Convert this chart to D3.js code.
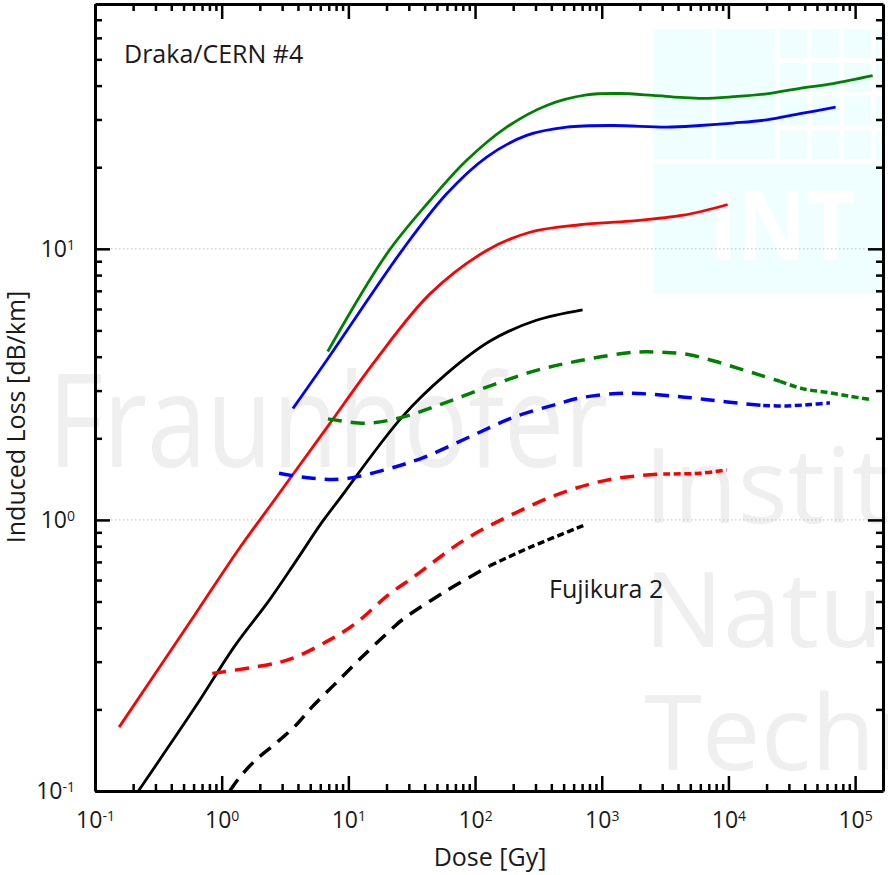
<!DOCTYPE html>
<html>
<head>
<meta charset="utf-8">
<script src="https://cdn.jsdelivr.net/npm/d3@7"></script>
<style>
  html, body { margin: 0; padding: 0; background: #fff; }
  svg { display: block; font-family: "Open Sans", "Noto Sans", sans-serif; }
</style>
</head>
<body>
<svg id="chart" width="888" height="875"></svg>
<script>
// Induced loss vs. dose, two fibres at four wavelengths/conditions each.
// Each series: [dose in Gy, induced loss in dB/km]

// Draka/CERN #4 (solid lines)
const drakaGreen = [[6.87,4.18],[20.1,9.58],[44.1,15.07],[85.9,21.2],[177.6,28.1],[367.5,33.8],[760,36.95],[1391,37.4],[2550,36.8],[4143,36.2],[6327,35.9],[10910,36.4],[20030,37.3],[36670,39.1],[67200,40.7],[137500,43.5]];
const drakaBlue = [[3.65,2.575],[6.90,3.94],[27.1,10.0],[59.7,15.96],[123.5,21.8],[255.5,26.2],[528,28.1],[1232,28.5],[3253,28.1],[5957,28.5],[10910,29.1],[20030,29.9],[36670,31.5],[70150,33.3]];
const drakaRed = [[0.155,0.172],[0.616,0.448],[1.337,0.770],[2.555,1.169],[6.90,2.219],[16.73,3.93],[44.1,6.82],[123.5,9.86],[271,11.51],[673,12.27],[1670,12.65],[4399,13.3],[9856,14.57]];
const drakaBlack = [[0.22,0.1],[0.616,0.2035],[1.274,0.3439],[2.332,0.4995],[3.788,0.6956],[6.155,0.977],[8.32,1.178],[26.4,2.39],[59.4,3.457],[133.5,4.587],[300.8,5.438],[705.6,5.955]];

// Fujikura 2 (dashed lines)
const fujiGreen = [[6.90,2.359],[13.77,2.273],[26.4,2.39],[59.4,2.716],[133.5,3.13],[300.8,3.555],[677.6,3.87],[1796,4.155],[2971,4.155],[4817,4.074],[7824,3.848],[12320,3.608],[18280,3.408],[25500,3.246],[38950,3.044],[59570,2.957],[90970,2.858],[132600,2.779]];
const fujiBlue = [[2.835,1.486],[5.21,1.424],[9.2,1.417],[20.7,1.543],[39.5,1.702],[89.2,2.018],[200.6,2.39],[451,2.68],[677.6,2.82],[1524,2.933],[3253,2.876],[5124,2.82],[7824,2.756],[12320,2.694],[18820,2.641],[28800,2.634],[43990,2.664],[63250,2.703]];
const fujiRed = [[0.843,0.2716],[2.634,0.2957],[3.788,0.3112],[6.94,0.3586],[11.27,0.4133],[20.65,0.5286],[32.5,0.614],[80.7,0.8386],[200.2,1.052],[496.8,1.264],[1232,1.417],[3058,1.478],[5957,1.486],[9679,1.529]];
const fujiBlack = [[1.16,0.1],[1.352,0.1107],[1.832,0.1294],[2.634,0.1491],[3.788,0.1735],[5.13,0.2035],[7.84,0.2482],[12.74,0.3112],[21.97,0.396],[27.1,0.431],[59.7,0.5484],[131.2,0.678],[271,0.792],[714.5,0.9528]];

const xMajorTicks = [1e-1, 1e0, 1e1, 1e2, 1e3, 1e4, 1e5];
const xTickExponents = ["-1", "0", "1", "2", "3", "4", "5"];
const yMajorTicks = [1e-1, 1e0, 1e1];
const yTickExponents = ["-1", "0", "1"];
const gridValues = [1e0, 1e1];

// denseFrom: dose above which the measurement points sit so close that the dashes shorten
const seriesList = [
  { data: drakaGreen, color: "#008000", dashed: false },
  { data: drakaBlue,  color: "#0000ff", dashed: false },
  { data: drakaRed,   color: "#ff0000", dashed: false },
  { data: drakaBlack, color: "#000000", dashed: false },
  { data: fujiGreen,  color: "#008000", dashed: true, denseFrom: 25500 },
  { data: fujiBlue,   color: "#0000ff", dashed: true, denseFrom: 18820 },
  { data: fujiRed,    color: "#ff0000", dashed: true, denseFrom: 3058 },
  { data: fujiBlack,  color: "#000000", dashed: true, denseFrom: 131.2 }
];

const svg = d3.select("#chart");
const plotLeft = 95, plotRight = 883, plotTop = 4, plotBottom = 791;

const x = d3.scaleLog().domain([0.1, 1.66e5]).range([plotLeft, plotRight]);
const y = d3.scaleLog().domain([0.1, 80]).range([plotBottom, plotTop]);

function minorTicks(lo, hi) {
  const out = [];
  for (let e = Math.floor(Math.log10(lo)); e <= Math.ceil(Math.log10(hi)); e++) {
    for (let m = 2; m <= 9; m++) {
      const v = m * Math.pow(10, e);
      if (v > lo && v < hi) out.push(v);
    }
  }
  return out;
}
const xMinor = minorTicks(0.1, 1.66e5);
const yMinor = minorTicks(0.1, 80);

// background watermark text
const wm = svg.append("g").attr("fill", "#efefef");
wm.append("text").attr("x", 48).attr("y", 467).attr("font-size", 130)
  .attr("textLength", 560).attr("lengthAdjust", "spacingAndGlyphs").text("Fraunhofer");
wm.append("text").attr("x", 644).attr("y", 523).attr("font-size", 105).text("Institut");
wm.append("text").attr("x", 644).attr("y", 647).attr("font-size", 105).text("Natur");
wm.append("text").attr("x", 644).attr("y", 770).attr("font-size", 105).text("Techn");

// INT logo block
const logo = svg.append("g");
const logoFill = "#effefe";
logo.append("rect").attr("x", 653).attr("y", 29).attr("width", 59).attr("height", 130).attr("fill", logoFill);
logo.append("rect").attr("x", 716).attr("y", 29).attr("width", 59.5).attr("height", 130).attr("fill", logoFill);
const colX = [[780, 807], [811.5, 839.5], [844, 871], [875.5, 883]];
const rowY = [[29, 58], [63, 91.5], [96.3, 125.2], [130.5, 159]];
colX.forEach(c => rowY.forEach(r => {
  logo.append("rect").attr("x", c[0]).attr("y", r[0]).attr("width", c[1] - c[0]).attr("height", r[1] - r[0]).attr("fill", logoFill);
}));
logo.append("rect").attr("x", 653).attr("y", 164).attr("width", 230).attr("height", 130).attr("fill", logoFill);
logo.append("text").attr("x", 709).attr("y", 260).attr("font-size", 96).attr("font-weight", 700)
  .attr("fill", "#ffffff").attr("textLength", 146).attr("lengthAdjust", "spacingAndGlyphs").text("INT");

// dotted grid lines at decades
svg.append("g").selectAll("line").data(gridValues).join("line")
  .attr("x1", plotLeft).attr("x2", plotRight)
  .attr("y1", d => y(d)).attr("y2", d => y(d))
  .attr("stroke", "#bdbdbd").attr("stroke-width", 1).attr("stroke-dasharray", "1.5,2.5");

// curves
svg.append("defs").append("clipPath").attr("id", "plotClip")
  .append("rect").attr("x", plotLeft).attr("y", plotTop).attr("width", plotRight - plotLeft).attr("height", plotBottom - plotTop);

const line = d3.line().x(d => x(d[0])).y(d => y(d[1])).curve(d3.curveCatmullRom.alpha(0.5));

// split dashed series into a coarse-dash and a fine-dash part
const pieces = [];
seriesList.forEach(s => {
  if (!s.dashed) {
    pieces.push({ data: s.data, color: s.color, width: 2.8, dash: null });
  } else {
    pieces.push({ data: s.data.filter(d => d[0] <= s.denseFrom), color: s.color, width: 3.5, dash: "14,9" });
    pieces.push({ data: s.data.filter(d => d[0] >= s.denseFrom), color: s.color, width: 3.5, dash: "7,3.5" });
  }
});

svg.append("g").attr("clip-path", "url(#plotClip)")
  .selectAll("path").data(pieces).join("path")
  .attr("d", d => line(d.data))
  .attr("fill", "none")
  .attr("stroke", d => d.color)
  .attr("stroke-width", d => d.width)
  .attr("stroke-dasharray", d => d.dash)
  .attr("stroke-linecap", "butt")
  .attr("stroke-linejoin", "round");

// axes
const axisColor = "#000";
function styleAxis(g) {
  g.select(".domain").attr("stroke", axisColor).attr("stroke-width", 3);
  g.selectAll(".tick line").attr("stroke", axisColor).attr("stroke-width", 2.5);
}
function supLabels(g, exps) {
  g.selectAll(".tick text").each(function(d, i) {
    const t = d3.select(this);
    t.text("10");
    t.append("tspan").attr("dy", "-0.5em").attr("font-size", 14).text(exps[i]);
  });
}

// bottom
const gb = svg.append("g").attr("transform", `translate(0,${plotBottom})`);
gb.call(d3.axisBottom(x).tickValues(xMinor).tickSizeInner(-7).tickSizeOuter(0).tickFormat(""));
gb.append("g").call(d3.axisBottom(x).tickValues(xMajorTicks).tickSizeInner(-15).tickSizeOuter(0).tickPadding(21).tickFormat(() => "10"))
  .call(g => g.select(".domain").remove())
  .call(g => g.selectAll(".tick text").attr("font-size", 23).attr("fill", "#1a1a1a").attr("font-family", "Open Sans"))
  .call(g => supLabels(g, xTickExponents))
  .call(styleAxis);
styleAxis(gb);

// top
const gt = svg.append("g").attr("transform", `translate(0,${plotTop})`);
gt.call(d3.axisTop(x).tickValues(xMinor).tickSizeInner(-7).tickSizeOuter(0).tickFormat(""));
gt.append("g").call(d3.axisTop(x).tickValues(xMajorTicks).tickSizeInner(-15).tickSizeOuter(0).tickFormat(""))
  .call(g => g.select(".domain").remove()).call(styleAxis);
styleAxis(gt);

// left
const gl = svg.append("g").attr("transform", `translate(${plotLeft},0)`);
gl.call(d3.axisLeft(y).tickValues(yMinor).tickSizeInner(-7).tickSizeOuter(0).tickFormat(""));
gl.append("g").call(d3.axisLeft(y).tickValues(yMajorTicks).tickSizeInner(-15).tickSizeOuter(0).tickPadding(20).tickFormat(() => "10"))
  .call(g => g.select(".domain").remove())
  .call(g => g.selectAll(".tick text").attr("font-size", 23).attr("fill", "#1a1a1a").attr("font-family", "Open Sans"))
  .call(g => supLabels(g, yTickExponents))
  .call(styleAxis);
styleAxis(gl);

// right
const gr = svg.append("g").attr("transform", `translate(${plotRight},0)`);
gr.call(d3.axisRight(y).tickValues(yMinor).tickSizeInner(-7).tickSizeOuter(0).tickFormat(""));
gr.append("g").call(d3.axisRight(y).tickValues(yMajorTicks).tickSizeInner(-15).tickSizeOuter(0).tickFormat(""))
  .call(g => g.select(".domain").remove()).call(styleAxis);
styleAxis(gr);

// axis titles
svg.append("text").attr("x", 490).attr("y", 866).attr("text-anchor", "middle")
  .attr("font-size", 25).attr("fill", "#1a1a1a").text("Dose [Gy]");
svg.append("text").attr("transform", "translate(25,417) rotate(-90)").attr("text-anchor", "middle")
  .attr("font-size", 25).attr("fill", "#1a1a1a").text("Induced Loss [dB/km]");

// fibre annotations
svg.append("text").attr("x", 124).attr("y", 63).attr("font-size", 25).attr("fill", "#1a1a1a").text("Draka/CERN #4");
svg.append("text").attr("x", 549).attr("y", 598).attr("font-size", 25).attr("fill", "#1a1a1a").text("Fujikura 2");
</script>
</body>
</html>
